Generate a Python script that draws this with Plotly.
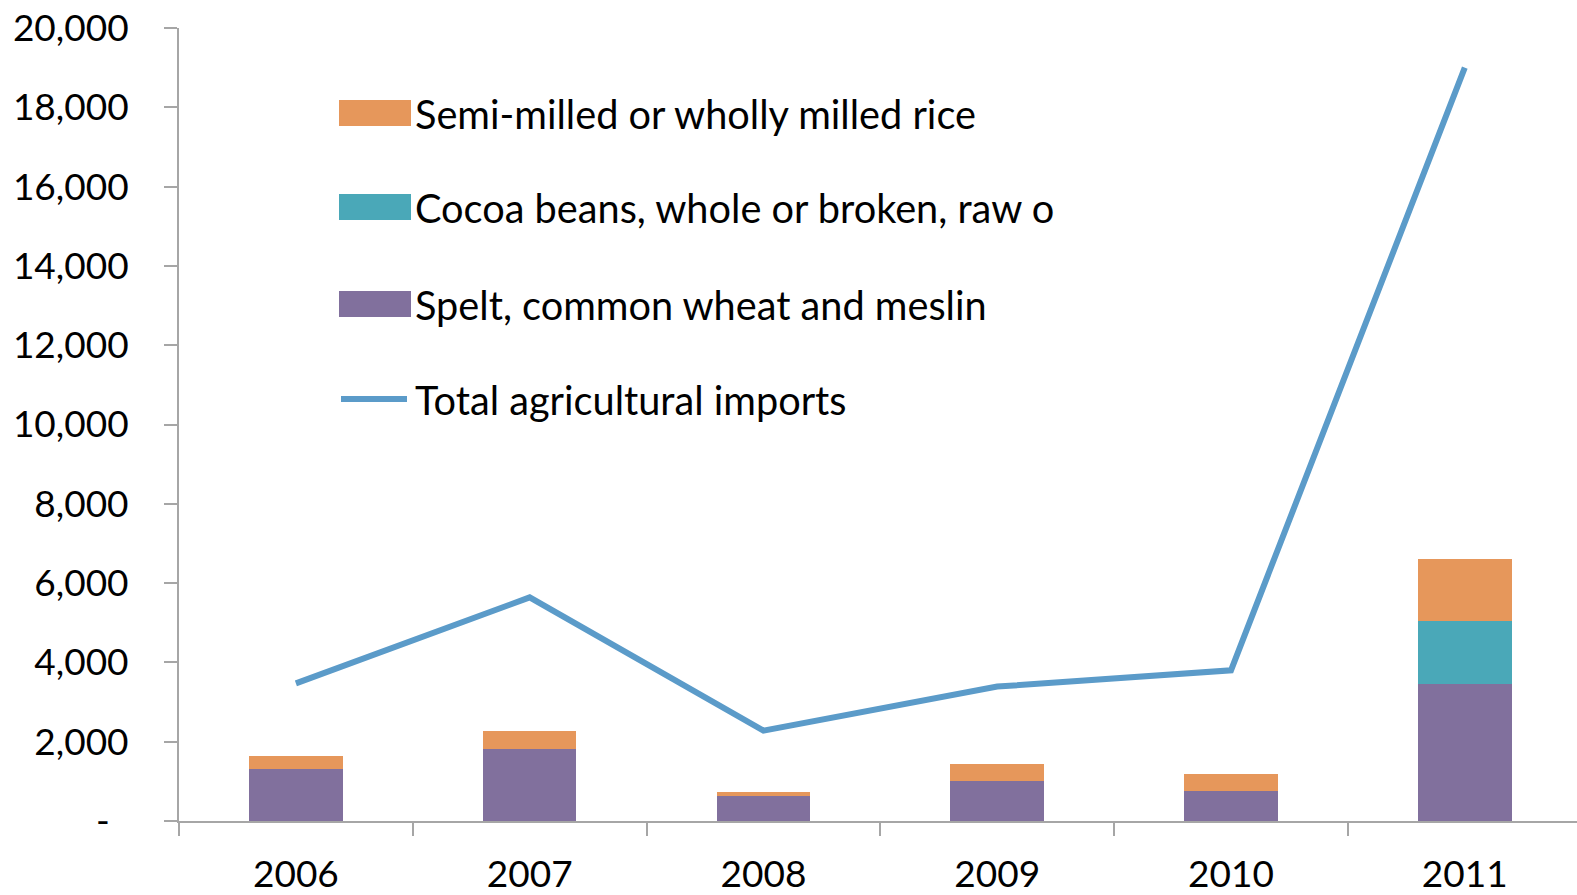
import plotly.graph_objects as go

years = ["2006", "2007", "2008", "2009", "2010", "2011"]
wheat = [1300, 1820, 620, 1020, 750, 3450]
cocoa = [0, 0, 0, 0, 0, 1600]
rice = [350, 440, 120, 430, 440, 1570]
total = [3470, 5640, 2280, 3390, 3800, 19000]

y_ticks = [0, 2000, 4000, 6000, 8000, 10000, 12000, 14000, 16000, 18000, 20000]
y_ticktext = ["-\u00a0\u00a0"] + [f"{v:,}" for v in y_ticks[1:]]

legend_names = ["Semi-milled or wholly milled rice", "Cocoa beans, whole or broken, raw o",
                "Spelt, common wheat and meslin", "Total agricultural imports"]

C_RICE = "#E6975B"
C_COCOA = "#4AA8B8"
C_WHEAT = "#81709D"
C_LINE = "#5B9BC9"
FONT = "Lato"
TXT = "#000000"

W, H = 1577, 895
ML, MR, MT = 179, 0, 28
MB = H - 821
PW, PH = W - ML - MR, H - MT - MB


def px(x):
    # pixel x -> paper
    return (x - ML) / PW


def py(y):
    # pixel y -> paper
    return (H - MB - y) / PH


fig = go.Figure()
fig.add_bar(x=years, y=wheat, name=legend_names[2], marker=dict(color=C_WHEAT, line=dict(width=0)), showlegend=False)
fig.add_bar(x=years, y=cocoa, name=legend_names[1], marker=dict(color=C_COCOA, line=dict(width=0)), showlegend=False)
fig.add_bar(x=years, y=rice, name=legend_names[0], marker=dict(color=C_RICE, line=dict(width=0)), showlegend=False)
fig.add_scatter(x=years, y=total, name=legend_names[3], mode="lines",
                line=dict(color=C_LINE, width=6), showlegend=False)

shapes = []
annotations = []
rows = [(113, C_RICE, "bar"), (207, C_COCOA, "bar"), (304, C_WHEAT, "bar"), (399, C_LINE, "line")]
for (cy, col, kind), name in zip(rows, legend_names):
    if kind == "bar":
        shapes.append(dict(type="rect", xref="paper", yref="paper",
                           x0=px(339), x1=px(411), y0=py(cy - 13), y1=py(cy + 13),
                           fillcolor=col, line=dict(width=0)))
    else:
        shapes.append(dict(type="line", xref="paper", yref="paper",
                           x0=px(341), x1=px(407), y0=py(cy), y1=py(cy),
                           line=dict(color=col, width=6)))
    annotations.append(dict(xref="paper", yref="paper", x=px(413), y=py(cy),
                            text=name, showarrow=False, xanchor="left", yanchor="middle",
                            font=dict(family=FONT, size=39.7, color=TXT)))

fig.update_layout(
    width=W, height=H,
    margin=dict(l=ML, r=MR, t=MT, b=MB, autoexpand=False),
    barmode="stack",
    bargap=0.6,
    plot_bgcolor="white",
    paper_bgcolor="white",
    font=dict(family=FONT, size=37, color=TXT),
    shapes=shapes,
    annotations=annotations,
    showlegend=False,
    hovermode=False,
    xaxis=dict(
        type="category", range=[-0.5, 5.48],
        showline=True, linecolor="#A6A6A6", linewidth=2,
        ticks="outside", tickson="boundaries", ticklen=13, tickcolor="#A6A6A6", tickwidth=2,
        showgrid=False, zeroline=False,
        tickfont=dict(family=FONT, size=37, color=TXT),
        ticklabelstandoff=20,
        ticklabeloverflow="allow",
    ),
    yaxis=dict(
        range=[0, 20000],
        tickvals=y_ticks, ticktext=y_ticktext,
        showline=True, linecolor="#A6A6A6", linewidth=2,
        ticks="outside", ticklen=13, tickcolor="#A6A6A6", tickwidth=2,
        showgrid=False, zeroline=False,
        tickfont=dict(family=FONT, size=37, color=TXT),
        ticklabelstandoff=28,
        ticklabeloverflow="allow",
    ),
)

fig.write_html("out.html",
               config={"displayModeBar": False},
               post_script="document.body.style.margin='0';document.body.style.overflow='hidden';")
